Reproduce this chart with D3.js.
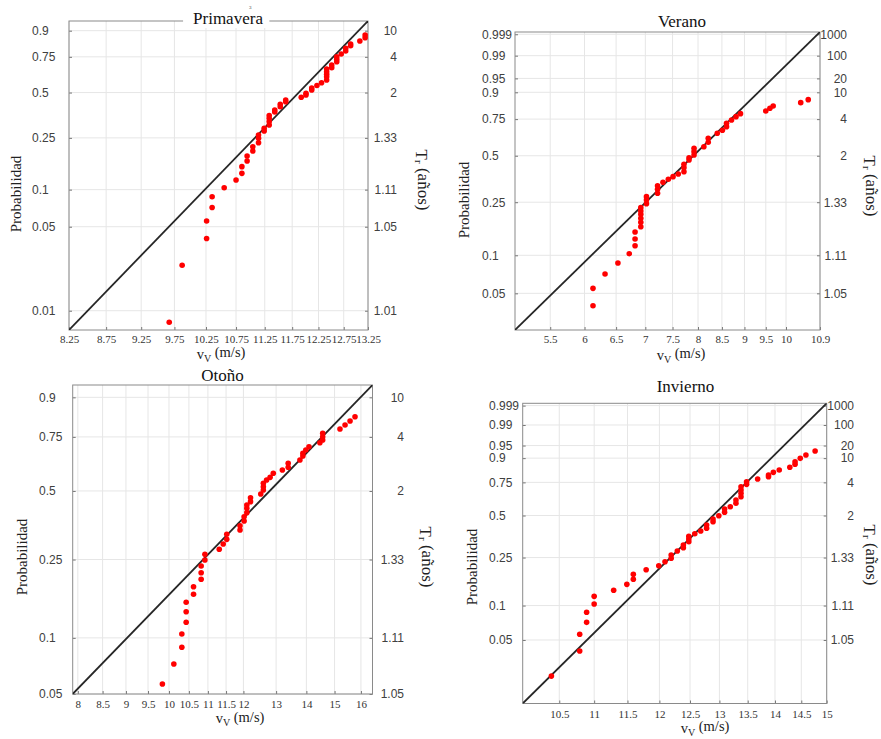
<!DOCTYPE html>
<html><head><meta charset="utf-8">
<script src="https://cdn.jsdelivr.net/npm/d3@7/dist/d3.min.js"></script>
<style>body{margin:0;background:#fff}svg{display:block}</style>
</head><body>
<svg id="c" width="881" height="739"></svg>
<script>
// ---------------- DATA ----------------
const titles = ["Primavera", "Verano", "Otoño", "Invierno"];

// wind speed (m/s) and plotted probability for each season
const vPrimavera = [9.67, 9.87, 10.26, 10.26, 10.35, 10.35, 10.55, 10.75, 10.85, 10.85, 10.94, 10.94, 11.04, 11.04, 11.14, 11.14, 11.14, 11.24, 11.24, 11.33, 11.33, 11.33, 11.33, 11.43, 11.43, 11.53, 11.53, 11.63, 11.63, 11.92, 12.01, 12.01, 12.12, 12.12, 12.22, 12.31, 12.41, 12.41, 12.41, 12.41, 12.41, 12.51, 12.51, 12.61, 12.61, 12.61, 12.70, 12.79, 12.79, 12.89, 12.89, 13.08, 13.19, 13.19];
const pPrimavera = [0.0080, 0.0240, 0.0400, 0.0557, 0.0718, 0.0877, 0.1036, 0.1193, 0.1346, 0.1517, 0.1677, 0.1831, 0.1998, 0.2152, 0.2304, 0.2483, 0.2623, 0.2801, 0.2929, 0.3088, 0.3265, 0.3433, 0.3585, 0.3783, 0.3899, 0.4095, 0.4240, 0.4397, 0.4512, 0.4691, 0.4837, 0.4957, 0.5173, 0.5311, 0.5482, 0.5681, 0.5870, 0.6104, 0.6277, 0.6461, 0.6655, 0.6747, 0.6936, 0.7167, 0.7334, 0.7508, 0.7690, 0.7883, 0.8052, 0.8211, 0.8312, 0.8482, 0.8660, 0.8796];

const vVerano = [6.13, 6.13, 6.32, 6.53, 6.72, 6.82, 6.82, 6.82, 6.92, 6.92, 6.92, 6.92, 6.92, 6.92, 7.02, 7.02, 7.02, 7.22, 7.22, 7.22, 7.32, 7.42, 7.51, 7.61, 7.72, 7.72, 7.72, 7.82, 7.82, 7.92, 7.92, 7.92, 8.12, 8.21, 8.21, 8.40, 8.51, 8.60, 8.60, 8.71, 8.81, 8.91, 9.50, 9.60, 9.68, 10.38, 10.58];
const pVerano = [0.0397, 0.0548, 0.0713, 0.0871, 0.1029, 0.1187, 0.1336, 0.1511, 0.1656, 0.1786, 0.1912, 0.2047, 0.2162, 0.2286, 0.2440, 0.2594, 0.2735, 0.2887, 0.3076, 0.3252, 0.3428, 0.3585, 0.3729, 0.3880, 0.4011, 0.4249, 0.4456, 0.4728, 0.4874, 0.5050, 0.5271, 0.5500, 0.5608, 0.5913, 0.6189, 0.6538, 0.6747, 0.6994, 0.7224, 0.7446, 0.7660, 0.7850, 0.8016, 0.8177, 0.8312, 0.8493, 0.8652];

const vOtono = [9.84, 10.12, 10.32, 10.32, 10.43, 10.43, 10.43, 10.62, 10.62, 10.82, 10.82, 10.82, 10.92, 10.92, 11.31, 11.42, 11.52, 11.52, 11.90, 11.90, 12.02, 12.02, 12.10, 12.10, 12.10, 12.21, 12.21, 12.52, 12.60, 12.60, 12.60, 12.70, 12.81, 12.91, 13.20, 13.39, 13.39, 13.78, 13.88, 13.88, 13.98, 14.09, 14.47, 14.57, 14.57, 14.57, 15.20, 15.39, 15.58, 15.77];
const pOtono = [0.0566, 0.0726, 0.0892, 0.1048, 0.1207, 0.1370, 0.1532, 0.1682, 0.1838, 0.2002, 0.2157, 0.2326, 0.2486, 0.2648, 0.2796, 0.2961, 0.3111, 0.3281, 0.3431, 0.3585, 0.3759, 0.3923, 0.4083, 0.4259, 0.4394, 0.4535, 0.4704, 0.4864, 0.5044, 0.5191, 0.5343, 0.5497, 0.5619, 0.5808, 0.5961, 0.6089, 0.6277, 0.6432, 0.6619, 0.6747, 0.6900, 0.7055, 0.7238, 0.7362, 0.7508, 0.7656, 0.7844, 0.8010, 0.8171, 0.8339];

const vInvierno = [10.39, 10.79, 10.79, 10.89, 10.89, 11.00, 11.00, 11.29, 11.49, 11.59, 11.59, 11.79, 11.99, 12.09, 12.19, 12.19, 12.29, 12.39, 12.39, 12.48, 12.48, 12.48, 12.58, 12.68, 12.78, 12.78, 12.89, 12.89, 12.99, 13.09, 13.09, 13.19, 13.29, 13.29, 13.38, 13.38, 13.38, 13.38, 13.48, 13.48, 13.68, 13.88, 13.88, 13.97, 14.08, 14.28, 14.38, 14.38, 14.48, 14.59, 14.77];
const pInvierno = [0.0238, 0.0399, 0.0561, 0.0715, 0.0875, 0.1031, 0.1200, 0.1350, 0.1515, 0.1668, 0.1835, 0.2000, 0.2152, 0.2318, 0.2466, 0.2616, 0.2810, 0.2978, 0.3122, 0.3303, 0.3456, 0.3617, 0.3774, 0.3941, 0.4117, 0.4336, 0.4561, 0.4748, 0.4988, 0.5236, 0.5482, 0.5655, 0.5913, 0.6167, 0.6421, 0.6681, 0.6933, 0.7181, 0.7358, 0.7550, 0.7740, 0.7900, 0.8016, 0.8193, 0.8342, 0.8505, 0.8679, 0.8819, 0.8990, 0.9143, 0.9309];

// axis extents (data units) – the fitted line runs corner to corner
const xDomPrimavera = [8.25, 13.25], pDomPrimavera = [0.00689, 0.9379];
const xDomVerano = [5.03, 10.9],    pDomVerano = [0.0253, 0.99926];
const xDomOtono = [7.9, 16.46],     pDomOtono = [0.05, 0.9326];
const xDomInvierno = [10, 15],      pDomInvierno = [0.01349, 0.99929];

// tick values / labels
const xTicksPrimavera = [8.25, 8.75, 9.25, 9.75, 10.25, 10.75, 11.25, 11.75, 12.25, 12.75, 13.25];
const xTicksVerano = [5.5, 6, 6.5, 7, 7.5, 8, 8.5, 9, 9.5, 10, 10.9];
const xTicksOtono = [8, 8.5, 9, 9.5, 10, 10.5, 11, 11.5, 12, 13, 14, 15, 16];
const xTicksInvierno = [10.5, 11, 11.5, 12, 12.5, 13, 13.5, 14, 14.5, 15];

const pTicks7 = [0.01, 0.05, 0.1, 0.25, 0.5, 0.75, 0.9];
const trLabels7 = ["1.01", "1.05", "1.11", "1.33", "2", "4", "10"];
const pTicks9 = [0.05, 0.1, 0.25, 0.5, 0.75, 0.9, 0.95, 0.99, 0.999];
const trLabels9 = ["1.05", "1.11", "1.33", "2", "4", "10", "20", "100", "1000"];
const pTicks6 = [0.05, 0.1, 0.25, 0.5, 0.75, 0.9];
const trLabels6 = ["1.05", "1.11", "1.33", "2", "4", "10"];

// ---------------- LAYOUT ----------------
const panels = [
  {title: titles[0], v: vPrimavera, p: pPrimavera, xDom: xDomPrimavera, pDom: pDomPrimavera,
   xTicks: xTicksPrimavera, pTicks: pTicks7, tr: trLabels7,
   L: 69, R: 368, T: 21, B: 330, titleX: 228, titleY: 24, titleBg: true,
   xlabX: 221, xlabY: 358.5, ylabX: 16, ylabY: 194, trX: 422, trY: 180, leftLab: 32, rightLab: 397, xTickY: 343},
  {title: titles[1], v: vVerano, p: pVerano, xDom: xDomVerano, pDom: pDomVerano,
   xTicks: xTicksVerano, pTicks: pTicks9, tr: trLabels9,
   L: 515, R: 820, T: 32, B: 330, titleX: 682, titleY: 26.5,
   xlabX: 681, xlabY: 359.5, ylabX: 464, ylabY: 200, trX: 870, trY: 186, leftLab: 482, rightLab: 847, xTickY: 343},
  {title: titles[2], v: vOtono, p: pOtono, xDom: xDomOtono, pDom: pDomOtono,
   xTicks: xTicksOtono, pTicks: pTicks6, tr: trLabels6,
   L: 72.7, R: 372.5, T: 385, B: 694, titleX: 222.5, titleY: 380.5,
   xlabX: 240, xlabY: 723, ylabX: 22, ylabY: 557, trX: 426, trY: 557, leftLab: 39, rightLab: 404, xTickY: 707.5},
  {title: titles[3], v: vInvierno, p: pInvierno, xDom: xDomInvierno, pDom: pDomInvierno,
   xTicks: xTicksInvierno, pTicks: pTicks9, tr: trLabels9,
   L: 522.7, R: 826.7, T: 403.3, B: 703.5, titleX: 685.5, titleY: 391.7,
   xlabX: 705, xlabY: 732.5, ylabX: 472, ylabY: 567, trX: 870, trY: 555, leftLab: 489, rightLab: 854, xTickY: 717.5}
];

const SERIF = "'Liberation Serif', 'Times New Roman', serif";
const SANS = "'Liberation Sans', Arial, Helvetica, sans-serif";
const wbl = p => Math.log(-Math.log(1 - p));   // Weibull probability paper transform

const svg = d3.select("#c");

panels.forEach(cfg => {
  const g = svg.append("g");
  const x = d3.scaleLog().domain(cfg.xDom).range([cfg.L, cfg.R]);
  const yl = d3.scaleLinear().domain(cfg.pDom.map(wbl)).range([cfg.B, cfg.T]);
  const y = p => yl(wbl(p));

  // white plot area
  g.append("rect").attr("x", cfg.L).attr("y", cfg.T).attr("width", cfg.R - cfg.L).attr("height", cfg.B - cfg.T).attr("fill", "#fff");

  // grid
  g.append("g").selectAll("line").data(cfg.xTicks).join("line")
    .attr("x1", d => x(d)).attr("x2", d => x(d)).attr("y1", cfg.T).attr("y2", cfg.B)
    .attr("stroke", "#e6e6e6").attr("stroke-width", 1);
  g.append("g").selectAll("line").data(cfg.pTicks).join("line")
    .attr("x1", cfg.L).attr("x2", cfg.R).attr("y1", d => y(d)).attr("y2", d => y(d))
    .attr("stroke", "#e6e6e6").attr("stroke-width", 1);

  // axes (ticks inside, MATLAB style)
  const ax = g.append("g").attr("transform", `translate(0,${cfg.B})`)
    .call(d3.axisBottom(x).tickValues(cfg.xTicks).tickFormat(d => String(d)).tickSizeInner(-3).tickSizeOuter(0).tickPadding(5));
  ax.select(".domain").remove();
  ax.selectAll(".tick line").attr("stroke", "#777");
  ax.selectAll("text").attr("font-family", SERIF).attr("font-size", 11).attr("fill", "#333")
    .attr("dy", null).attr("y", cfg.xTickY - cfg.B);

  const tVals = cfg.pTicks.map(wbl);
  const ayL = g.append("g").attr("transform", `translate(${cfg.L},0)`)
    .call(d3.axisLeft(yl).tickValues(tVals).tickFormat((d, i) => String(cfg.pTicks[i])).tickSizeInner(-3).tickSizeOuter(0));
  ayL.select(".domain").remove();
  ayL.selectAll(".tick line").attr("stroke", "#777");
  ayL.selectAll("text").attr("font-family", SANS).attr("font-size", 12).attr("fill", "#404040")
    .attr("text-anchor", "start").attr("x", cfg.leftLab - cfg.L);

  const ayR = g.append("g").attr("transform", `translate(${cfg.R},0)`)
    .call(d3.axisRight(yl).tickValues(tVals).tickFormat((d, i) => cfg.tr[i]).tickSizeInner(-3).tickSizeOuter(0));
  ayR.select(".domain").remove();
  ayR.selectAll(".tick line").attr("stroke", "#777");
  ayR.selectAll("text").attr("font-family", SANS).attr("font-size", 12).attr("fill", "#404040")
    .attr("text-anchor", "end").attr("x", cfg.rightLab - cfg.R);

  // box
  g.append("rect").attr("x", cfg.L).attr("y", cfg.T).attr("width", cfg.R - cfg.L).attr("height", cfg.B - cfg.T)
    .attr("fill", "none").attr("stroke", "#8a8a8a").attr("stroke-width", 1);

  // clip for marks
  const cid = "clip" + cfg.title.replace(/\W/g, "");
  g.append("clipPath").attr("id", cid).append("rect")
    .attr("x", cfg.L).attr("y", cfg.T).attr("width", cfg.R - cfg.L).attr("height", cfg.B - cfg.T);
  const m = g.append("g").attr("clip-path", `url(#${cid})`);

  // fitted reference line (corner to corner)
  const fit = [{v: cfg.xDom[0], p: cfg.pDom[0]}, {v: cfg.xDom[1], p: cfg.pDom[1]}];
  m.append("path").datum(fit)
    .attr("d", d3.line().x(d => x(d.v)).y(d => y(d.p)))
    .attr("stroke", "#262626").attr("stroke-width", 1.8).attr("fill", "none");

  // points
  const n = Math.min(cfg.v.length, cfg.p.length);
  const pts = d3.range(n).map(i => ({v: cfg.v[i], p: cfg.p[i]}));
  g.append("g").selectAll("circle").data(pts).join("circle")
    .attr("cx", d => x(d.v)).attr("cy", d => y(d.p)).attr("r", 2.8).attr("fill", "#ff0000");

  // title (with white backing where it overlaps the box)
  const bg = g.append("rect").attr("fill", "#fff");
  const tt = g.append("text").attr("x", cfg.titleX).attr("y", cfg.titleY).attr("text-anchor", "middle")
    .attr("font-family", SERIF).attr("font-size", 17).attr("fill", "#111").text(cfg.title);
  if (cfg.titleBg) {
    const bb = tt.node().getBBox();
    bg.attr("x", bb.x - 10).attr("y", bb.y).attr("width", bb.width + 16).attr("height", bb.height);
    g.append("text").attr("x", cfg.titleX + 21).attr("y", 9).attr("font-family", SERIF)
      .attr("font-size", 5).attr("fill", "#333").text("3");
  } else {
    bg.remove();
  }

  // x label  v_V (m/s)
  const xl = g.append("text").attr("x", cfg.xlabX).attr("y", cfg.xlabY).attr("text-anchor", "middle")
    .attr("font-family", SERIF).attr("font-size", 14.5).attr("fill", "#222");
  xl.append("tspan").text("v");
  xl.append("tspan").attr("font-size", 10).attr("dy", "0.3em").text("V");
  xl.append("tspan").attr("dy", "-0.3em").text(" (m/s)");

  // left y label
  g.append("text").attr("transform", `translate(${cfg.ylabX},${cfg.ylabY}) rotate(-90)`)
    .attr("text-anchor", "middle").attr("dominant-baseline", "central")
    .attr("font-family", SERIF).attr("font-size", 15).attr("fill", "#222").text("Probabilidad");

  // right y label  T_r (años)
  const tl = g.append("text").attr("transform", `translate(${cfg.trX},${cfg.trY}) rotate(90)`)
    .attr("text-anchor", "middle").attr("dominant-baseline", "central")
    .attr("font-family", SERIF).attr("font-size", 17).attr("fill", "#222");
  tl.append("tspan").text("T");
  tl.append("tspan").attr("font-size", 11).attr("dy", "0.3em").text("r");
  tl.append("tspan").attr("dy", "-0.3em").text(" (años)");
});
</script>
</body></html>
